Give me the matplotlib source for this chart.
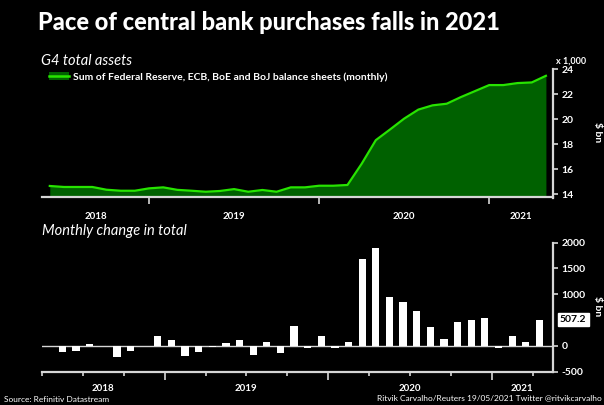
import matplotlib
matplotlib.use("Agg")
import matplotlib.pyplot as plt
from matplotlib.patches import Patch
from matplotlib.lines import Line2D
import pandas as pd

plt.rcParams["font.family"] = ["Lato", "DejaVu Sans"]

# ---- data -------------------------------------------------------------
months = pd.period_range("2018-05", "2021-04", freq="M")
# G4 total assets at month end, $ bn x 1,000
total_assets = [14.68, 14.60, 14.60, 14.60, 14.38, 14.30, 14.30, 14.49, 14.57,
                14.37, 14.30, 14.22, 14.28, 14.43, 14.22, 14.36, 14.22, 14.57,
                14.57, 14.70, 14.70, 14.76, 16.45, 18.34, 19.19, 20.06, 20.78,
                21.12, 21.25, 21.78, 22.26, 22.74, 22.74, 22.90, 22.95, 23.48]
# monthly change in total, $ bn
monthly_change = [-128, -107, 33, 4, -220, -103, -6, 180, 110, -200, -117, -33,
                  45, 110, -180, 78, -136, 380, -52, 180, -52, 65, 1683, 1889,
                  945, 841, 666, 363, 130, 460, 492, 544, -39, 188, 65, 507.2]
year_labels = ["2018", "2019", "2020", "2021"]
assets_ticks = [14, 16, 18, 20, 22, 24]
change_ticks = [-500, 0, 1000, 1500, 2000]

# month positions: months since Jan 2018
start = [(m.year - 2018) * 12 + m.month - 1 for m in months]
month_end = [s + 1 for s in start]
month_mid = [s + 0.5 for s in start]

# ---- style ------------------------------------------------------------
BG = "black"
GREEN_LINE = "#27e400"
GREEN_FILL = "#006100"
AXIS = "#d6d6d6"
TXT = "white"
XLIM = (4.45, 40.5)

W, H = 604, 405
fig = plt.figure(figsize=(W / 100, H / 100), dpi=100, facecolor=BG)


def box(x0, y0, x1, y1):
    return [x0 / W, 1 - y1 / H, (x1 - x0) / W, (y1 - y0) / H]


ax1 = fig.add_axes(box(42, 69.3, 553, 197.5))
ax2 = fig.add_axes(box(42, 242.7, 553, 371.5))

for ax in (ax1, ax2):
    ax.set_facecolor(BG)
    ax.set_xlim(*XLIM)
    for side in ("left", "top"):
        ax.spines[side].set_visible(False)
    for side in ("right", "bottom"):
        ax.spines[side].set_color(AXIS)
        ax.spines[side].set_linewidth(1.6)
    ax.yaxis.tick_right()
    ax.tick_params(axis="y", colors=AXIS, labelcolor=TXT, labelsize=7.5,
                   length=3.5, width=1.2, pad=2.5)
    ax.tick_params(axis="x", colors=AXIS, labelbottom=False)

# ---- top panel: total assets -----------------------------------------
ymin = 13.76
ax1.set_ylim(ymin, 24)
ax1.fill_between(month_end, ymin, total_assets, color=GREEN_FILL, lw=0)
ax1.plot(month_end, total_assets, color=GREEN_LINE, lw=1.6,
         solid_joinstyle="round")
ax1.set_yticks(assets_ticks)
ax1.set_yticklabels([str(t) for t in assets_ticks], fontweight="bold")
ax1.set_xticks([12, 24, 36])
ax1.tick_params(axis="x", which="major", length=5, width=1.2, direction="out")

# ---- bottom panel: monthly change ------------------------------------
ax2.set_ylim(-500, 2000)
ax2.axhline(0, color=AXIS, lw=1.0, zorder=1)
ax2.bar(month_mid, monthly_change, width=0.53, color="white", lw=0, zorder=2)
ax2.set_yticks(change_ticks)
ax2.set_yticklabels([str(t) for t in change_ticks], fontweight="bold")
ax2.set_xticks([12, 24, 36])
ax2.set_xticks([q for q in range(3, 41, 3) if q % 12], minor=True)
ax2.tick_params(axis="x", which="major", length=6, width=1.2)
ax2.tick_params(axis="x", which="minor", length=3, width=1.2, colors=AXIS)

# value flag for latest month
ax2.annotate(f"{monthly_change[-1]}", xy=(1, monthly_change[-1]),
             xycoords=("axes fraction", "data"), xytext=(5, 0),
             textcoords="offset points", ha="left", va="center",
             fontsize=7.5, color="black", fontweight="bold",
             bbox=dict(boxstyle="square,pad=0.2", fc="white", ec="white"))

# year labels centred on the visible part of each year
for ax, off in ((ax1, -14), (ax2, -12.5)):
    lo, hi = ax.get_xlim()
    for i, yl in enumerate(year_labels):
        a = max(lo, i * 12)
        b = min(hi, (i + 1) * 12)
        ax.annotate(yl, xy=((a + b) / 2, 0),
                    xycoords=("data", "axes fraction"), xytext=(0, off),
                    textcoords="offset points", ha="center", va="center",
                    fontsize=7, color=TXT, fontweight="bold")

# legend
handle = (Patch(fc=GREEN_FILL, ec="none"), Line2D([], [], color=GREEN_LINE, lw=1.8))
leg = fig.legend([handle],
                 ["Sum of Federal Reserve, ECB, BoE and BoJ balance sheets (monthly)"],
                 loc="center left", bbox_to_anchor=(49 / W, 1 - 77 / H),
                 frameon=False, fontsize=7.5, handlelength=1.9,
                 handletextpad=0.4, borderaxespad=0, borderpad=0)
for t in leg.get_texts():
    t.set_color(TXT)
    t.set_fontweight("bold")

# ---- texts ------------------------------------------------------------
fig.text(38 / W, 1 - 22 / H, "Pace of central bank purchases falls in 2021",
         fontsize=17, fontweight="black", color=TXT, va="center", ha="left")
fig.text(41 / W, 1 - 61 / H, "G4 total assets", fontsize=10.5, style="italic",
         color=TXT, va="center", ha="left")
fig.text(42 / W, 1 - 231 / H, "Monthly change in total", fontsize=10.5,
         style="italic", color=TXT, va="center", ha="left")
fig.text(556 / W, 1 - 61 / H, "x 1,000", fontsize=6.5, fontweight="bold",
         color=TXT, va="center", ha="left")
fig.text(597 / W, 1 - 132 / H, "$ bn", fontsize=7.5, fontweight="bold",
         color=TXT, rotation=270, va="center", ha="center")
fig.text(597 / W, 1 - 306 / H, "$ bn", fontsize=7.5, fontweight="bold",
         color=TXT, rotation=270, va="center", ha="center")
fig.text(4 / W, 1 - 399 / H, "Source: Refinitiv Datastream", fontsize=6,
         color=TXT, va="center", ha="left")
fig.text(602 / W, 1 - 398 / H,
         "Ritvik Carvalho/Reuters 19/05/2021 Twitter @ritvikcarvalho",
         fontsize=6, color=TXT, va="center", ha="right")

fig.savefig("out.png", dpi=100, facecolor=BG)
